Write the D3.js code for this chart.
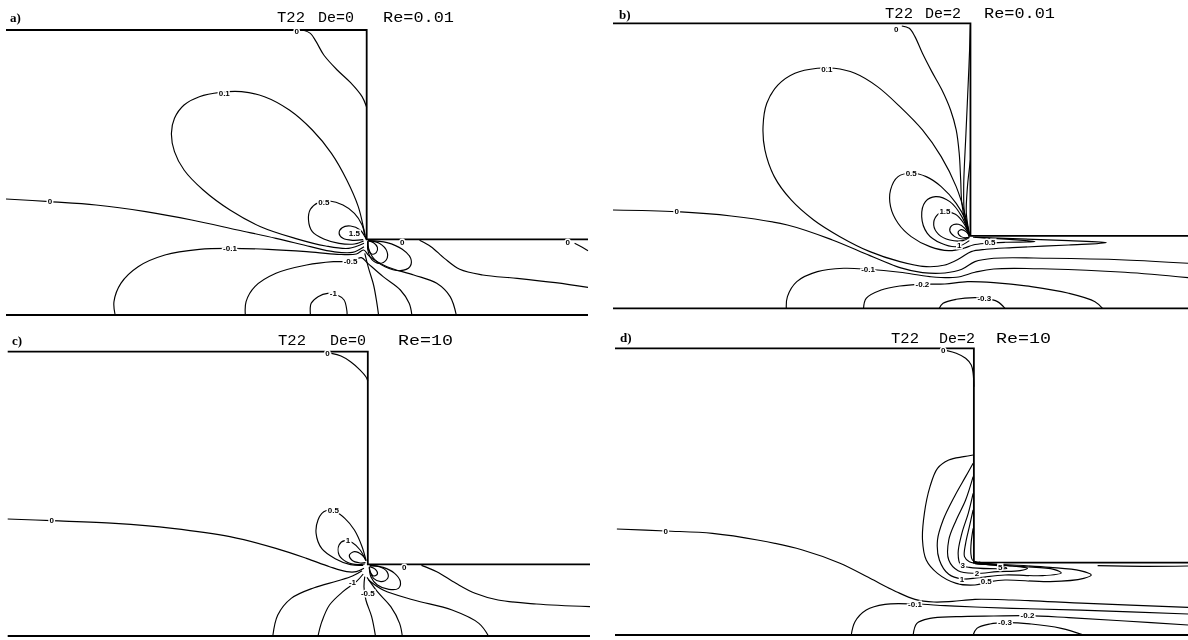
<!DOCTYPE html>
<html>
<head>
<meta charset="utf-8">
<script src="https://cdn.jsdelivr.net/npm/d3@7"></script>
<style>
  body { margin: 0; background: #fff; }
  .wall { fill: none; stroke: #000; stroke-width: 1.8; }
  .contour { fill: none; stroke: #000; stroke-width: 1.15; }
  .labels { opacity: 0.999; will-change: transform; }
  .clabel { font-family: "Liberation Sans", sans-serif; font-size: 8px; font-weight: bold;
            paint-order: stroke; stroke: #fff; stroke-width: 3px; fill: #000; }
  .title { font-family: "Liberation Mono", monospace; font-size: 15px; fill: #000; }
  .letter { font-family: "Liberation Serif", serif; font-size: 13px; font-weight: bold; fill: #000; }
</style>
</head>
<body>
<div class="chart"></div>
<script>
// contour data
// x measured from the contraction corner, y measured up from the centre line (digitizer units)

var titles = [
  ["a)", "T22", "De=0", "Re=0.01"],
  ["b)", "T22", "De=2", "Re=0.01"],
  ["c)", "T22", "De=0", "Re=10"],
  ["d)", "T22", "De=2", "Re=10"]
];

// channel geometry: [x upstream end, x downstream end, upstream wall height, downstream wall height]
var geomA = [-942, 578, 855, 227];
var geomB = [-953, 580, 855, 217];
var geomC = [-940, 580, 853, 215];
var geomD = [-957, 571, 860, 217];

var contoursA = [
  { level: "0", label: [-183, 852], pts: [[-167,855],[-147,845],[-132,820],[-112,780],[-77,735],[-42,697],[-12,655],[0,623]] },
  { level: "0.1", label: [-372, 664], pts: [[-2,227],[-7,255],[-22,325],[-52,405],[-92,485],[-142,555],[-202,615],[-267,655],[-327,670],[-382,668],[-437,655],[-477,630],[-502,590],[-510,545],[-502,490],[-477,435],[-427,375],[-357,315],[-277,265],[-187,230],[-107,207],[-47,200],[-7,215]] },
  { level: "0", label: [-827, 340], pts: [[-942,348],[-827,340],[-707,330],[-577,310],[-457,285],[-337,255],[-237,230],[-147,205],[-87,190],[-37,188],[-7,205]] },
  { level: "-0.1", label: [-357, 200], pts: [[-657,0],[-660,40],[-642,95],[-597,145],[-527,180],[-437,197],[-357,200],[-257,197],[-157,190],[-77,182],[-27,183],[-8,195],[8,175],[53,145],[123,120],[183,95],[218,55],[234,0]] },
  { level: "-0.5", label: [-42, 161], pts: [[-317,0],[-315,40],[-292,85],[-237,125],[-157,150],[-87,160],[-42,161],[-14,172],[3,155],[43,115],[88,75],[111,35],[118,0]] },
  { level: "-1", label: [-87, 64], pts: [[-147,0],[-145,35],[-127,55],[-102,65],[-77,60],[-59,45],[-52,15],[-51,0]] },
  { level: null, label: null, pts: [[-5,185],[5,140],[18,90],[26,40],[31,0]] },
  { level: "0.5", label: [-112, 337], pts: [[-5,240],[-12,270],[-32,305],[-62,330],[-97,342],[-127,337],[-147,317],[-152,285],[-142,250],[-112,228],[-72,215],[-32,213],[-8,222]] },
  { level: "1.5", label: [-32, 246], pts: [[-4,233],[-17,255],[-42,267],[-64,262],[-72,245],[-62,230],[-37,224],[-9,226]] },
  { level: null, label: null, pts: [[3,223],[18,217],[28,203],[25,187],[13,183],[5,195],[3,220]] },
  { level: null, label: null, pts: [[3,223],[33,215],[53,190],[51,165],[33,155],[13,167],[3,195],[3,220]] },
  { level: null, label: null, pts: [[5,223],[53,217],[93,197],[115,170],[113,145],[88,133],[48,145],[18,170],[5,200],[3,222]] },
  { level: "0", label: [93, 219], pts: [[138,224],[168,205],[203,170],[243,137],[303,120],[393,110],[493,97],[578,83]] },
  { level: "0", label: [525, 219], pts: [[543,215],[563,203],[578,193]] }
];

var contoursB = [
  { level: "0", label: [-198, 838], pts: [[-183,847],[-163,840],[-148,815],[-128,765],[-103,710],[-76,655],[-53,595],[-38,535],[-30,465],[-26,385],[-23,315],[-13,255],[-2,220]] },
  { level: null, label: null, pts: [[0,850],[-4,725],[-12,525],[-18,365],[-16,285],[-4,225]] },
  { level: null, label: null, pts: [[0,445],[-8,365],[-11,285],[-3,225]] },
  { level: "0.1", label: [-383, 718], pts: [[-3,213],[-13,275],[-38,365],[-78,455],[-128,535],[-188,605],[-248,665],[-308,705],[-363,720],[-408,720],[-468,705],[-513,670],[-543,615],[-553,545],[-548,475],[-523,395],[-478,325],[-418,265],[-348,215],[-268,170],[-188,140],[-118,125],[-68,130],[-28,150],[2,170],[42,177],[112,182],[262,190],[362,197],[262,203],[112,209],[12,213]] },
  { level: "0.5", label: [-158, 405], pts: [[-3,220],[-13,265],[-38,315],[-78,365],[-118,395],[-158,405],[-193,395],[-213,355],[-213,305],[-193,255],[-158,215],[-108,185],[-58,173],[-18,180],[7,190],[42,195],[92,198],[172,200],[112,206],[52,210],[7,213]] },
  { level: "0.5", label: [52, 199], pts: [] },
  { level: "1", label: [-30, 190], pts: [[-3,220],[-23,275],[-55,320],[-93,335],[-120,320],[-130,275],[-115,225],[-78,195],[-35,185],[-3,203]] },
  { level: "1.5", label: [-68, 290], pts: [[-3,219],[-18,255],[-40,282],[-68,290],[-90,278],[-98,250],[-85,222],[-55,205],[-20,203],[-3,212]] },
  { level: null, label: null, pts: [[-3,218],[-15,240],[-32,252],[-50,248],[-55,232],[-42,215],[-20,208],[-4,213]] },
  { level: null, label: null, pts: [[-3,217],[-12,230],[-25,236],[-33,228],[-25,215],[-10,212],[-3,215]] },
  { level: "0", label: [-783, 290], pts: [[-953,295],[-783,290],[-638,277],[-488,250],[-368,205],[-268,158],[-188,122],[-128,107],[-68,106],[-23,117],[12,140],[62,150],[212,150],[412,145],[580,135]] },
  { level: "-0.1", label: [-273, 117], pts: [[-491,0],[-488,35],[-463,80],[-408,110],[-338,120],[-273,117],[-188,108],[-108,95],[-38,93],[12,108],[62,118],[212,118],[412,108],[580,92]] },
  { level: "-0.2", label: [-128, 72], pts: [[-285,0],[-278,30],[-238,55],[-188,67],[-128,72],[-68,73],[-8,80],[62,77],[162,65],[262,45],[332,20],[352,0]] },
  { level: "-0.3", label: [37, 30], pts: [[-83,0],[-73,15],[-38,27],[12,32],[37,30],[72,20],[92,0]] }
];

var contoursC = [
  { level: "0", label: [-105, 848], pts: [[-95,848],[-70,840],[-45,823],[-20,798],[-5,778],[0,765]] },
  { level: "0", label: [-825, 346], pts: [[-940,351],[-825,346],[-660,338],[-510,323],[-360,298],[-240,263],[-160,233],[-100,208],[-55,193],[-30,193],[-10,203]] },
  { level: "0.5", label: [-90, 376], pts: [[-5,228],[-15,268],[-35,318],[-60,353],[-90,376],[-115,373],[-130,348],[-135,308],[-120,262],[-85,232],[-45,214],[-12,212]] },
  { level: "1", label: [-52, 286], pts: [[-5,226],[-20,258],[-40,280],[-60,286],[-75,273],[-75,243],[-55,222],[-25,214],[-8,216]] },
  { level: null, label: null, pts: [[-4,226],[-15,243],[-35,253],[-48,243],[-42,228],[-20,219],[-6,220]] },
  { level: null, label: null, pts: [[5,208],[20,200],[25,186],[15,180],[6,193],[4,206]] },
  { level: null, label: null, pts: [[5,210],[30,208],[50,193],[52,173],[35,163],[15,173],[6,193],[4,208]] },
  { level: null, label: null, pts: [[5,212],[40,206],[70,188],[85,163],[80,143],[55,140],[25,153],[8,178],[4,205]] },
  { level: null, label: null, pts: [[-15,196],[-40,180],[-80,165],[-140,145],[-200,113],[-235,63],[-248,0]] },
  { level: "-1", label: [-40, 160], pts: [[-12,186],[-30,163],[-65,133],[-100,93],[-120,43],[-130,0]] },
  { level: "-0.5", label: [0, 128], pts: [[-8,178],[-10,148],[-5,108],[10,58],[20,0]] },
  { level: null, label: null, pts: [[-2,176],[25,133],[60,88],[83,38],[90,0]] },
  { level: null, label: null, pts: [[2,168],[40,138],[120,108],[220,78],[290,38],[315,0]] },
  { level: "0", label: [95, 207], pts: [[140,212],[180,193],[230,158],[280,128],[340,108],[440,96],[580,88]] }
];

var contoursD = [
  { level: "0", label: [-82, 855], pts: [[-72,853],[-47,845],[-22,830],[-7,810],[-2,785],[0,745]] },
  { level: "0", label: [-822, 312], pts: [[-952,318],[-822,312],[-697,305],[-577,285],[-457,255],[-357,215],[-277,170],[-207,130],[-157,107],[-107,99],[-57,101],[3,107],[103,105],[303,95],[571,83]] },
  { level: "-0.1", label: [-157, 93], pts: [[-327,0],[-317,40],[-287,75],[-237,92],[-157,93],[-77,88],[3,84],[103,80],[303,74],[571,63]] },
  { level: "-0.2", label: [143, 58], pts: [[-162,0],[-152,35],[-117,50],[-47,55],[53,57],[143,58],[253,52],[403,42],[571,30]] },
  { level: "-0.3", label: [83, 37], pts: [[-2,0],[8,20],[43,33],[83,37],[153,33],[233,20],[293,0]] },
  { level: "0.5", label: [33, 160], pts: [[-2,540],[-27,535],[-67,525],[-97,500],[-117,445],[-132,365],[-137,285],[-127,225],[-97,185],[-47,155],[3,150],[43,160],[83,165],[203,160],[293,170],[313,180],[283,193],[203,203],[103,210],[3,215]] },
  { level: "1", label: [-32, 168], pts: [[-2,515],[-22,475],[-52,415],[-82,345],[-97,285],[-92,225],[-67,182],[-32,168],[13,172],[83,180],[183,178],[233,186],[213,197],[133,205],[53,210],[3,215]] },
  { level: "2", label: [8, 185], pts: [[-2,475],[-22,405],[-47,345],[-67,285],[-67,225],[-42,193],[3,185],[63,190],[123,193],[143,200],[103,207],[3,215]] },
  { level: "3", label: [-30, 210], pts: [[-2,425],[-15,365],[-32,305],[-42,245],[-35,210],[-12,203],[43,199],[88,200],[63,208],[3,214]] },
  { level: null, label: null, pts: [[-2,375],[-12,325],[-22,275],[-25,235],[-12,220],[33,212],[53,211],[33,215],[1,216]] },
  { level: "5", label: [70, 204], pts: [[-2,320],[-7,280],[-8,245],[-4,225],[8,219],[18,218],[5,217]] },
  { level: null, label: null, pts: [[330,208],[450,206],[571,207]] }
];

// layout of the four panels on the page
var layout = [
  { geom: geomA, contours: contoursA, xr: [6, 588],    yr: [315, 30],    letter: [10, 22],  tx: [277, 318, 383], tw: [28, 36, 71], ty: 22 },
  { geom: geomB, contours: contoursB, xr: [613, 1188], yr: [308.3, 23.3], letter: [619, 19], tx: [885, 925, 984], tw: [28, 36, 71], ty: 18 },
  { geom: geomC, contours: contoursC, xr: [7.7, 590],  yr: [636, 351.7], letter: [12, 345], tx: [278, 330, 398], tw: [28, 36, 55], ty: 345 },
  { geom: geomD, contours: contoursD, xr: [615, 1188], yr: [635, 348.3], letter: [620, 342], tx: [891, 939, 996], tw: [28, 36, 55], ty: 343 }
];

var svg = d3.select(".chart").append("svg")
  .attr("width", 1188)
  .attr("height", 640);

svg.append("rect").attr("width", 1188).attr("height", 640).attr("fill", "#fff");

layout.forEach(function(p, i) {
  var g = p.geom;
  var x = d3.scaleLinear().domain([g[0], g[1]]).range(p.xr);
  var y = d3.scaleLinear().domain([0, g[2]]).range(p.yr);

  var panel = svg.append("g");

  var straight = d3.line().x(d => x(d[0])).y(d => y(d[1]));
  var smooth = d3.line().x(d => x(d[0])).y(d => y(d[1])).curve(d3.curveCatmullRom.alpha(0.5));

  // contour lines
  panel.selectAll("path.contour")
    .data(p.contours.filter(c => c.pts.length > 1))
    .enter()
    .append("path")
    .attr("class", "contour")
    .attr("d", c => smooth(c.pts));

  // walls: upstream wall, step, downstream wall and centre line
  panel.append("path")
    .attr("class", "wall")
    .attr("d", straight([[g[0], g[2]], [0, g[2]], [0, g[3]], [g[1], g[3]]]));
  panel.append("path")
    .attr("class", "wall")
    .attr("d", straight([[g[0], 0], [g[1], 0]]));

  // contour labels
  panel.append("g")
    .attr("class", "labels")
    .selectAll("text")
    .data(p.contours.filter(c => c.label))
    .enter()
    .append("text")
    .attr("class", "clabel")
    .attr("x", c => x(c.label[0]))
    .attr("y", c => y(c.label[1]))
    .attr("dy", "0.35em")
    .attr("text-anchor", "middle")
    .text(c => c.level);

  // panel letter and title
  var t = titles[i];
  panel.append("text")
    .attr("class", "letter")
    .attr("x", p.letter[0])
    .attr("y", p.letter[1])
    .text(t[0]);

  for (var k = 0; k < 3; k++) {
    panel.append("text")
      .attr("class", "title")
      .attr("x", p.tx[k])
      .attr("y", p.ty)
      .attr("textLength", p.tw[k])
      .attr("lengthAdjust", "spacingAndGlyphs")
      .text(t[k + 1]);
  }
});
</script>
</body>
</html>
